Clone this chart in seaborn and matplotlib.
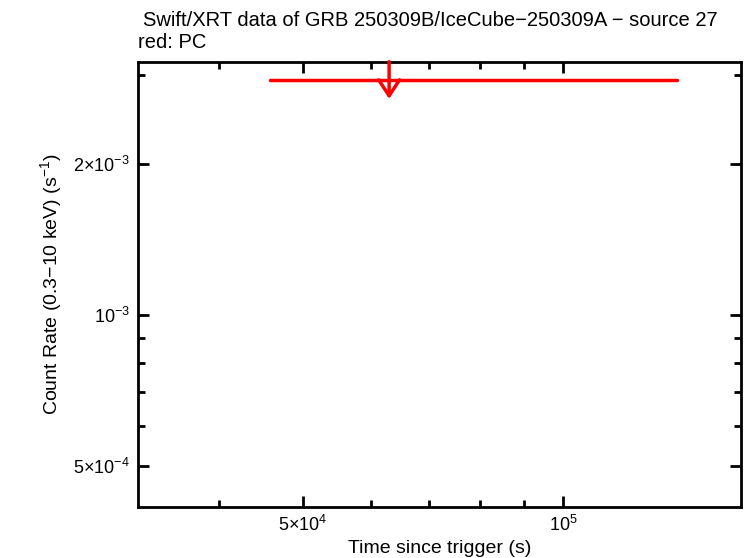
import numpy as np
import pandas as pd
import matplotlib
matplotlib.use("Agg")
import matplotlib.pyplot as plt
import seaborn as sns
from matplotlib.ticker import FixedLocator, FixedFormatter, NullFormatter

# --- data (PC mode upper limit) ---
t_start = [4.58e4]
t_stop = [1.353e5]
t_mid = [6.29e4]
rate_ul = [2.94e-3]

xticks_major = [5e4, 1e5]
xtick_labels = [r"5$\times$10$^{4}$", r"10$^{5}$"]
xticks_minor = [4e4, 6e4, 7e4, 8e4, 9e4]
yticks_major = [5e-4, 1e-3, 2e-3]
ytick_labels = [r"5$\times$10$^{-4}$", r"10$^{-3}$", r"2$\times$10$^{-3}$"]
yticks_minor = [6e-4, 7e-4, 8e-4, 9e-4, 3e-3]

sns.set_style("ticks")
plt.rcParams['font.family'] = ['Liberation Sans', 'DejaVu Sans']
plt.rcParams['mathtext.fontset'] = 'custom'
plt.rcParams['mathtext.rm'] = 'Liberation Sans'
plt.rcParams['text.color'] = 'black'
plt.rcParams['axes.labelcolor'] = 'black'

fig = plt.figure(figsize=(7.46, 5.58), dpi=100)
ax = fig.add_axes([0.185, 0.0914, 0.808, 0.798])

# horizontal bin of the upper limit
df = pd.DataFrame({
    "t": [t_start[0], t_stop[0]],
    "rate": [rate_ul[0], rate_ul[0]],
})
sns.lineplot(data=df, x="t", y="rate", color="red", linewidth=2.5, ax=ax)

ax.set_xscale("log")
ax.set_yscale("log")
ax.set_xlim(3.225e4, 1.603e5)
ax.set_ylim(4.14e-4, 3.19e-3)

# downward arrow for the upper limit
for tm, r in zip(t_mid, rate_ul):
    ax.annotate("", xy=(tm, r * 0.915), xytext=(tm, 3.19e-3),
                arrowprops=dict(arrowstyle="->,head_length=0.38,head_width=0.25",
                                color="red", lw=2.5,
                                mutation_scale=30, shrinkA=0, shrinkB=0))

ax.xaxis.set_major_locator(FixedLocator(xticks_major))
ax.xaxis.set_major_formatter(FixedFormatter(xtick_labels))
ax.xaxis.set_minor_locator(FixedLocator(xticks_minor))
ax.xaxis.set_minor_formatter(NullFormatter())
ax.yaxis.set_major_locator(FixedLocator(yticks_major))
ax.yaxis.set_major_formatter(FixedFormatter(ytick_labels))
ax.yaxis.set_minor_locator(FixedLocator(yticks_minor))
ax.yaxis.set_minor_formatter(NullFormatter())

ax.tick_params(which="both", direction="in", top=True, right=True,
               width=2, labelsize=13, colors="black")
ax.tick_params(which="major", length=8, pad=6)
ax.tick_params(which="minor", length=5)
for s in ax.spines.values():
    s.set_linewidth(2)
    s.set_color("black")

ax.set_xlabel("Time since trigger (s)", fontsize=14, labelpad=3)
ax.set_ylabel(r"Count Rate (0.3$-$10 keV) (s$^{-1}$)", fontsize=14, labelpad=6)

fig.text(0.192, 0.963, "Swift/XRT data of GRB 250309B/IceCube\u2212250309A \u2212 source 27",
         fontsize=14.5, va="center", ha="left")
fig.text(0.185, 0.924, "red: PC", fontsize=14.5, va="center", ha="left")

fig.savefig("out.png", dpi=100)
